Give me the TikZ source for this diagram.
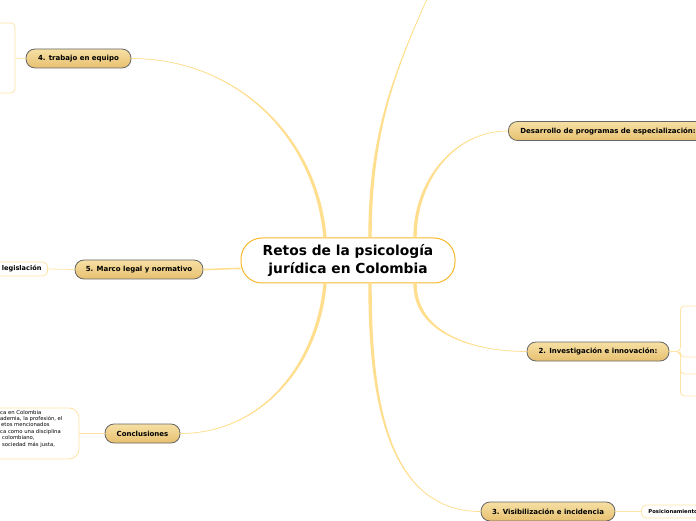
\documentclass[tikz,border=0pt]{standalone}
\usepackage{fontspec}
\setmainfont{DejaVu Sans}

\definecolor{rootline}{HTML}{F6B92E}
\definecolor{linkgold}{HTML}{FFDF8F}
\definecolor{leafline}{HTML}{FFE4A6}
\definecolor{topicline}{HTML}{666666}
\definecolor{topictop}{HTML}{F6E0A4}
\definecolor{topicbot}{HTML}{E7C070}

\tikzset{
  root/.style={draw=rootline, line width=1pt, fill=white, rounded corners=21pt,
    minimum width=214pt, minimum height=45pt, align=center,
    font=\fontsize{13.8}{18}\selectfont\bfseries},
  topic/.style={draw=topicline, line width=0.8pt, top color=topictop, bottom color=topicbot,
    rounded corners=9pt, minimum height=19pt, inner sep=0pt,
    font=\fontsize{7}{8}\selectfont\bfseries},
  leaf/.style={draw=leafline, line width=0.8pt, fill=white, rounded corners=5pt,
    inner sep=0pt, font=\fontsize{6.6}{7}\selectfont\bfseries},
  twig/.style={draw=leafline, line width=0.8pt},
}

% tapered branch: start, end, out, in
\newcommand{\branch}[4]{%
  \fill[linkgold] ([xshift=-1.7pt]#1) to[out=#3,in=#4] (#2)
    to[out=#4,in=#3] ([xshift=1.7pt]#1) -- cycle;
  \draw[linkgold, line width=0.7pt] (#1) to[out=#3,in=#4] (#2);}

\begin{document}
\begin{tikzpicture}[x=1pt, y=1pt]
  \useasboundingbox (0,0) rectangle (696,520);

  %--- central topic
  \node[root] (root) at (348,259.5) {Retos de la psicología\\jurídica en Colombia};
  \coordinate (rn1) at ([xshift=-23pt]root.north);
  \coordinate (rn2) at ([xshift=22pt]root.north);
  \coordinate (rn3) at ([xshift=67pt]root.north);
  \coordinate (rs1) at ([xshift=-23pt]root.south);
  \coordinate (rs2) at ([xshift=22pt]root.south);
  \coordinate (rs3) at ([xshift=67pt]root.south);
  \coordinate (upper) at (445,560);

  %--- main topics
  \node[topic, minimum width=105pt] (equipo) at (78.5,461.5) {4. trabajo en equipo};
  \node[topic, anchor=west, inner xsep=12pt] (desarrollo) at (508,389)
    {Desarrollo de programas de especialización:};
  \node[topic, minimum width=128pt] (marco) at (139,250.5) {5. Marco legal y normativo};
  \node[topic, minimum width=142pt] (invest) at (598,168.5) {2. Investigación e innovación:};
  \node[topic, minimum width=75pt] (concl) at (142.5,86.5) {Conclusiones};
  \node[topic, minimum width=134pt] (visib) at (548,8.5) {3. Visibilización e incidencia};

  %--- branches from the centre
  \branch{rn1}{equipo.east}{95}{0}
  \branch{rn2}{upper}{90}{-115}
  \branch{rn3}{desarrollo.west}{90}{180}
  \branch{rs1}{concl.east}{-95}{0}
  \branch{rs2}{visib.west}{-90}{180}
  \branch{rs3}{invest.west}{-90}{180}
  \draw[linkgold, line width=1.6pt] ([yshift=-8pt]root.west) to[out=180,in=0] (marco.east);

  %--- subtopics
  \node[leaf, minimum width=55pt, minimum height=70pt, rounded corners=4pt] (equipobox) at (-12.5,462) {};
  \node[leaf, anchor=east, minimum height=14pt, inner xsep=6pt] (legis) at (48,251) {legislación};
  \node[leaf, minimum width=119pt, minimum height=51pt, rounded corners=10pt] (concbox) at (19.5,86.5) {};
  \node[anchor=north west, inner sep=0pt, font=\fontsize{5.3}{6.4}\selectfont] (conctext) at (0,110.5)
    {\begin{tabular}{@{}l@{}}
      ca en Colombia\\
      ademia, la profesión, el\\
      \kern1pt etos mencionados\\
      ca como una disciplina\\
      \kern2pt colombiano,\\
      \kern2pt sociedad más justa,
    \end{tabular}};
  \node[leaf, anchor=west, minimum height=13pt, inner xsep=7pt, font=\fontsize{5.3}{6}\selectfont\bfseries] (posicion) at (641,8.5) {Posicionamiento};

  \coordinate (inv1) at (700,214);
  \coordinate (inv2) at (700,163);
  \coordinate (inv3) at (700,146);
  \coordinate (inv4) at (700,124);

  %--- small connectors
  \draw[twig] (equipo.west) -- (equipobox.east);
  \draw[twig] (marco.west) -- (legis.east);
  \draw[twig] (concl.west) -- (concbox.east);
  \draw[twig] (visib.east) -- (posicion.west);
  \foreach \c in {inv1,inv2,inv3,inv4}
    \draw[twig, rounded corners=4pt] (invest.east) -- ++(11,0) |- (\c);

\end{tikzpicture}
\end{document}
